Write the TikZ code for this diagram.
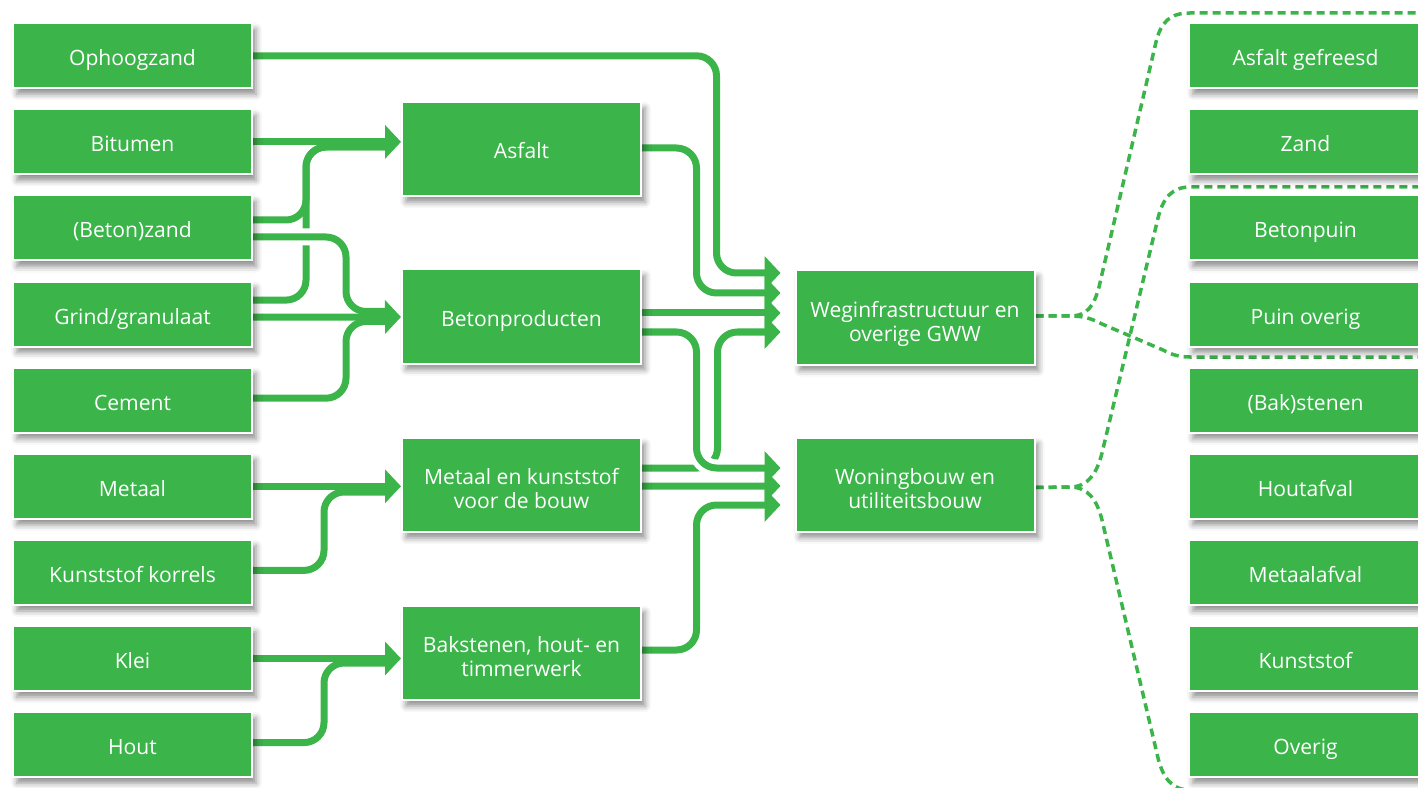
\documentclass[tikz,border=0pt]{standalone}
\usepackage{fontspec}
\setmainfont{Open Sans}
\usepackage{tikz}
\usetikzlibrary{arrows.meta,calc,shadows.blur}
\pgfdeclarelayer{edgelayer}
\pgfdeclarelayer{nodelayer}
\pgfsetlayers{edgelayer,nodelayer,main}
\definecolor{leaf}{RGB}{59,180,74}
\tikzstyle{box}=[rectangle,fill=leaf,draw=white,line width=0.4mm,text=white,minimum width=47.8mm,minimum height=13mm,inner sep=0pt,align=center,text height=11.3pt,text depth=0pt,font=\fontsize{12}{13.7}\selectfont,blur shadow={shadow xshift=0.8mm,shadow yshift=-1.2mm,shadow blur radius=1.2mm,shadow opacity=45}]
\tikzstyle{midbox}=[box,minimum height=18.8mm]
\tikzstyle{twobox}=[midbox,text height=27pt]
\tikzstyle{rbox}=[box,minimum width=46.6mm]
\tikzstyle{feed}=[-,draw=leaf,line width=1.4mm,rounded corners=4mm]
\tikzstyle{feedarrow}=[feed,-{Triangle[length=3.2mm,width=6.6mm]}]
\tikzstyle{bridge}=[preaction={draw=white,line width=3.4mm,-,shorten <=2mm,shorten >=4mm}]
\tikzstyle{waste}=[draw=leaf,line width=0.7mm,dash pattern=on 1.6mm off 1mm]

\begin{document}
\begin{tikzpicture}[x=0.2mm,y=-0.2mm]
	\useasboundingbox (0,0) rectangle (1418,788);
	\begin{pgfonlayer}{nodelayer}
		\node [style=box] (0) at (132.5, 55.8) {Ophoogzand};
		\node [style=box] (1) at (132.5, 141.9) {Bitumen};
		\node [style=box] (2) at (132.5, 228) {(Beton)zand};
		\node [style=box] (3) at (132.5, 314.1) {Grind/granulaat};
		\node [style=box] (4) at (132.5, 400.2) {Cement};
		\node [style=box] (5) at (132.5, 486.3) {Metaal};
		\node [style=box] (6) at (132.5, 572.4) {Kunststof korrels};
		\node [style=box] (7) at (132.5, 658.5) {Klei};
		\node [style=box] (8) at (132.5, 744.6) {Hout};
		\node [style=midbox] (9) at (521.5, 149) {Asfalt};
		\node [style=midbox] (10) at (521.5, 316.5) {Betonproducten};
		\node [style=twobox] (11) at (521.5, 485) {Metaal en kunststof\\voor de bouw};
		\node [style=twobox] (12) at (521.5, 653) {Bakstenen, hout- en\\timmerwerk};
		\node [style=twobox] (13) at (915, 317.5) {Weginfrastructuur en\\overige GWW};
		\node [style=twobox] (14) at (915, 484.5) {Woningbouw en\\utiliteitsbouw};
		\node [style=rbox] (15) at (1305.5, 55.8) {Asfalt gefreesd};
		\node [style=rbox] (16) at (1305.5, 141.9) {Zand};
		\node [style=rbox] (17) at (1305.5, 228) {Betonpuin};
		\node [style=rbox] (18) at (1305.5, 314.1) {Puin overig};
		\node [style=rbox] (19) at (1305.5, 400.2) {(Bak)stenen};
		\node [style=rbox] (20) at (1305.5, 486.3) {Houtafval};
		\node [style=rbox] (21) at (1305.5, 572.4) {Metaalafval};
		\node [style=rbox] (22) at (1305.5, 658.5) {Kunststof};
		\node [style=rbox] (23) at (1305.5, 744.6) {Overig};
		\coordinate (24) at (1430, 13);
		\coordinate (25) at (1430, 357);
		\coordinate (26) at (1430, 187);
		\coordinate (27) at (1430, 790);
	\end{pgfonlayer}
	\begin{pgfonlayer}{edgelayer}
		\draw [style=feedarrow] (0.east) -| ($(13.west)+(-78,-44.5)$) -- ($(13.west)+(-14,-44.5)$);
		\draw [style=feedarrow] (1.east) -- (1.east -| 9.west);
		\draw [style=feed] ($(2.east)+(0,-8)$) -| ($(9.west)+(-95,-2)$) -- ($(9.west)+(-12,-2)$);
		\draw [style=feed] ($(3.east)+(0,-14)$) -| ($(9.west)+(-95,-2)$) -- ($(9.west)+(-12,-2)$);
		\draw [style=feed, style=bridge] ($(2.east)+(0,9)$) -| ($(10.west)+(-55,-5)$) -- ($(10.west)+(-12,-5)$);
		\draw [style=feedarrow] ($(3.east)+(0,3)$) -- ($(10.west)+(0,0.5)$);
		\draw [style=feed] ($(4.east)+(0,-2)$) -| ($(10.west)+(-55,5)$) -- ($(10.west)+(-12,5)$);
		\draw [style=feedarrow] (5.east) -- (5.east -| 11.west);
		\draw [style=feed] ($(6.east)+(0,-2)$) -| ($(11.west)+(-77,7)$) -- ($(11.west)+(-12,7)$);
		\draw [style=feedarrow] (7.east) -- (7.east -| 12.west);
		\draw [style=feed] ($(8.east)+(0,-2)$) -| ($(12.west)+(-77,10)$) -- ($(12.west)+(-12,10)$);
		\draw [style=feedarrow] ($(9.east)+(0,-1)$) -| ($(13.west)+(-98,-24.5)$) -- ($(13.west)+(-14,-24.5)$);
		\draw [style=feedarrow] ($(10.east)+(0,-3.5)$) -- ($(13.west)+(-14,-4.5)$);
		\draw [style=feedarrow] ($(11.east)+(0,-17)$) -| ($(13.west)+(-77,14.5)$) -- ($(13.west)+(-14,14.5)$);
		\draw [style=feedarrow, style=bridge] ($(10.east)+(0,15.5)$) -| ($(14.west)+(-98,-16.5)$) -- ($(14.west)+(-14,-16.5)$);
		\draw [style=feedarrow] ($(11.east)+(0,1)$) -- ($(14.west)+(-14,1.5)$);
		\draw [style=feedarrow] ($(12.east)+(0,-3)$) -| ($(14.west)+(-98,20.5)$) -- ($(14.west)+(-14,20.5)$);
		\draw [style=waste] ($(13.east)+(0,-1.5)$) -- (1070,316) .. controls (1088,316) and (1094,305) .. (1099,287) -- (1156,42) .. controls (1161,22) and (1170,13) .. (1190,13) -- (24);
		\draw [style=waste] ($(13.east)+(0,-1.5)$) -- (1070,316) .. controls (1085,316) and (1092,319) .. (1102,324) -- (1163,350) .. controls (1172,355) and (1180,357) .. (1190,357) -- (25);
		\draw [style=waste] ($(14.east)+(0,3)$) -- (1070,487) .. controls (1088,487) and (1097,473) .. (1102,453) -- (1158,218) .. controls (1163,198) and (1172,187) .. (1190,187) -- (26);
		\draw [style=waste] ($(14.east)+(0,3)$) -- (1070,487) .. controls (1088,487) and (1097,500) .. (1102,520) -- (1158,758) .. controls (1163,778) and (1172,790) .. (1190,790) -- (27);
	\end{pgfonlayer}
\end{tikzpicture}
\end{document}
